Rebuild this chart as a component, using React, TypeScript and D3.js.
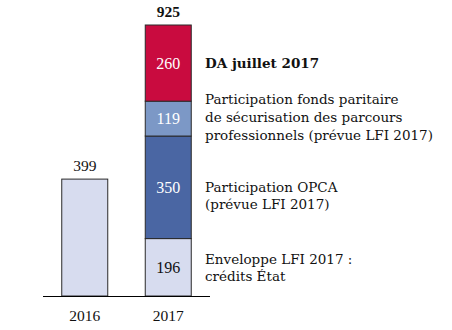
import React from "react";
import * as d3 from "d3";

const categories = ["2016", "2017"];
const seriesKeys = ["enveloppe", "opca", "fpspp", "da"];
const enveloppe = [399, 196];
const opca = [0, 350];
const fpspp = [0, 119];
const da = [0, 260];
const seriesColors = ["#D7DCEF", "#4A66A3", "#7C98C6", "#C90B3F"];
const labelColors = ["#111111", "#FFFFFF", "#FFFFFF", "#FFFFFF"];
const legendLines = [
  ["Enveloppe LFI 2017 :", "crédits État"],
  ["Participation OPCA", "(prévue LFI 2017)"],
  ["Participation fonds paritaire", "de sécurisation des parcours", "professionnels (prévue LFI 2017)"],
  ["DA juillet 2017"],
];
const legendBold = [false, false, false, true];
const legendBaselines = [[264, 281], [192, 209], [104, 122, 140], [68]];

const W = 452;
const H = 330;
const baseY = 296;
const topY = 25;
const barW = 46;
const numFont = "'Liberation Serif', serif";
const textFont = "'DejaVu Serif', serif";

export default function App() {
  const rows = categories.map((c, i) => ({
    cat: c,
    enveloppe: enveloppe[i],
    opca: opca[i],
    fpspp: fpspp[i],
    da: da[i],
  }));
  const totals = rows.map((r) => r.enveloppe + r.opca + r.fpspp + r.da);
  const stack = d3.stack<any>().keys(seriesKeys);
  const stacked = stack(rows);
  const y = d3.scaleLinear().domain([0, d3.max(totals) as number]).range([baseY, topY]);
  const x = d3.scalePoint<string>().domain(categories).range([43, 210]).padding(0.5);

  return (
    <svg width={W} height={H} style={{ position: "absolute", left: 0, top: 0, background: "#fff" }}>
      {stacked.map((s, si) => (
        <g key={si}>
          {s.map((d, i) => {
            const v = d[1] - d[0];
            if (v <= 0) return null;
            const cx = x(categories[i]) as number;
            const y0 = y(d[0]);
            const y1 = y(d[1]);
            const isSingle = totals[i] === v;
            return (
              <g key={i}>
                <rect
                  x={cx - barW / 2}
                  y={y1}
                  width={barW}
                  height={y0 - y1}
                  fill={seriesColors[si]}
                  stroke="#2a2a2a"
                  strokeWidth={1}
                />
                {!isSingle && (
                  <text
                    x={cx}
                    y={(y0 + y1) / 2 + 5.5}
                    textAnchor="middle"
                    fontFamily={numFont}
                    fontSize={16}
                    fill={labelColors[si]}
                  >
                    {v}
                  </text>
                )}
              </g>
            );
          })}
        </g>
      ))}
      {categories.map((c, i) => (
        <text
          key={"t" + c}
          x={x(c) as number}
          y={y(totals[i]) - 8}
          textAnchor="middle"
          fontFamily={numFont}
          fontSize={15.5}
          fontWeight={i === categories.length - 1 ? "bold" : "normal"}
          fill="#111"
        >
          {totals[i]}
        </text>
      ))}
      <line x1={43} x2={210} y1={baseY + 0.5} y2={baseY + 0.5} stroke="#000" strokeWidth={1} />
      {categories.map((c) => (
        <text
          key={"c" + c}
          x={x(c) as number}
          y={321}
          textAnchor="middle"
          fontFamily={numFont}
          fontSize={15.5}
          fill="#111"
        >
          {c}
        </text>
      ))}
      {legendLines.map((lines, si) =>
        lines.map((ln, li) => (
          <text
            key={si + "-" + li}
            x={205}
            y={legendBaselines[si][li]}
            fontFamily={textFont}
            fontSize={13.5}
            fontWeight={legendBold[si] ? "bold" : "normal"}
            fill="#111"
          >
            {ln}
          </text>
        ))
      )}
    </svg>
  );
}
